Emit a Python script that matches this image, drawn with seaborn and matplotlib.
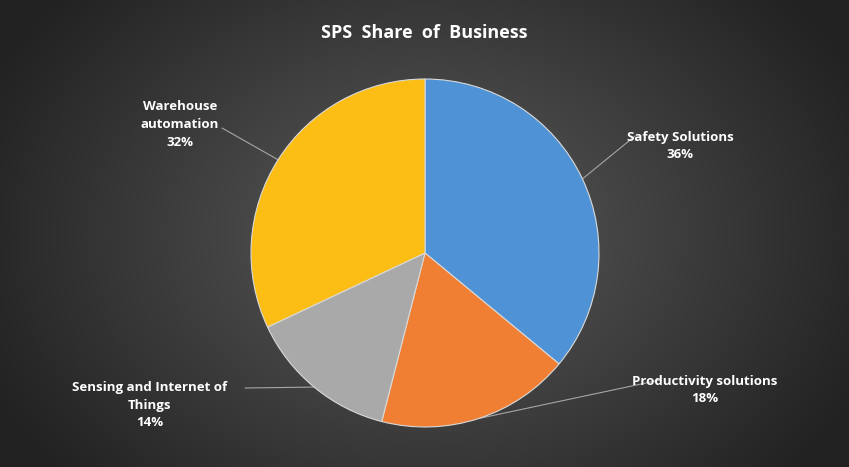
import numpy as np
import matplotlib
matplotlib.use("Agg")
import matplotlib.pyplot as plt
import seaborn as sns

categories = ["Safety Solutions", "Productivity solutions", "Sensing and Internet of\nThings", "Warehouse\nautomation"]
shares = [36, 18, 14, 32]
colors = ["#4f93d6", "#f07f34", "#a9a9a9", "#fcbe14"]
label_pos = [(680, 146), (705, 390), (150, 405), (180, 125)]  # pixel positions of label text
label_ha = ["center", "center", "center", "center"]

sns.set_theme(style="white")
plt.rcParams['font.family'] = ['Open Sans', 'DejaVu Sans']

W, H = 849, 467
fig = plt.figure(figsize=(W/100, H/100), dpi=100)

# radial gradient background
bg = fig.add_axes([0, 0, 1, 1])
yy, xx = np.mgrid[0:H, 0:W]
r = np.sqrt(((xx - W/2)/(W*0.55))**2 + ((yy - H/2)/(H*0.75))**2)
val = np.clip(0.36 - 0.22*r, 0.13, 0.36)
bg.imshow(np.dstack([val, val, val]), extent=[0, W, H, 0], aspect='auto')
bg.set_xlim(0, W); bg.set_ylim(H, 0); bg.axis('off')

cx, cy, R = 425, 253, 174
ax = fig.add_axes([(cx-R)/W, (H-cy-R)/H, 2*R/W, 2*R/H])
wedges, _ = ax.pie(shares, colors=colors, startangle=90, counterclock=False,
                   wedgeprops=dict(edgecolor="#d9d9d9", linewidth=0.8))
ax.set_xlim(-1, 1); ax.set_ylim(-1, 1)
ax.set_aspect('auto'); ax.axis('off')

for w, cat, s, (lx, ly), ha in zip(wedges, categories, shares, label_pos, label_ha):
    ang = np.deg2rad((w.theta1 + w.theta2)/2)
    px, py = cx + R*np.cos(ang), cy - R*np.sin(ang)
    txt = f"{cat}\n{s}%"
    bg.text(lx, ly, txt, ha=ha, va='center', color='white', fontsize=9.5,
            fontweight='bold', linespacing=1.5)
    nlines = txt.count("\n") + 1
    if lx > cx:
        ex, ey = lx - 45, ly - 6*nlines + 2
    else:
        ex, ey = lx + 72, ly - 6*nlines + 2
    if cat.startswith("Sensing"):
        ex, ey = lx + 95, ly - 17
    if cat.startswith("Warehouse"):
        ex, ey = lx + 42, ly + 3
    bg.plot([px, ex], [py, ey], color='#a6a6a6', lw=0.8)

fig.text(0.5, 1 - 33/H, "SPS  Share  of  Business", ha='center', va='center',
         color='white', fontsize=13, fontweight='bold')
fig.savefig("out.png", dpi=100)
